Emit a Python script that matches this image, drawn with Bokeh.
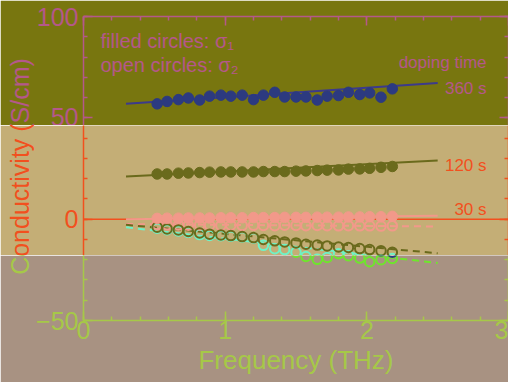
import math
from bokeh.plotting import figure
from bokeh.layouts import column
from bokeh.models import Range1d, LinearAxis, SingleIntervalTicker, Span, Label
from bokeh.embed import file_html
from bokeh.resources import INLINE

# ---------------- data ----------------
freq = [0.52, 0.59, 0.67, 0.74, 0.82, 0.89, 0.97, 1.04, 1.12, 1.20, 1.27, 1.35,
        1.42, 1.50, 1.57, 1.65, 1.72, 1.80, 1.87, 1.95, 2.02, 2.10, 2.18]
sigma1_360 = [56.9, 58.1, 59.0, 59.8, 58.8, 60.7, 61.2, 60.7, 61.2, 59.0, 61.2, 62.6,
              60.3, 60.3, 60.3, 58.8, 60.7, 61.0, 62.6, 61.5, 62.3, 60.2, 64.3]
sigma1_120 = [22.3, 22.3, 22.7, 22.8, 23.0, 23.2, 23.3, 23.3, 23.3, 23.3, 23.5, 23.5,
              23.5, 23.7, 23.8, 24.0, 24.2, 24.3, 24.7, 24.8, 25.1, 25.6, 26.0]
sigma1_30 = [0.4, 0.5, 0.5, 0.6, 0.6, 0.6, 0.7, 0.7, 0.7, 0.8, 0.8, 0.8,
             0.9, 0.9, 0.9, 1.0, 1.0, 1.0, 1.1, 1.1, 1.2, 1.2, 1.4]
sigma2_30 = [-2.6, -2.8, -2.9, -3.0, -2.9, -3.0, -3.1, -3.0, -3.1, -3.0, -3.1, -3.2,
             -3.0, -3.1, -3.2, -3.1, -3.2, -3.3, -3.2, -3.3, -3.3, -3.4, -3.3]
sigma2_120 = [-4.0, -4.8, -5.3, -6.1, -6.8, -7.4, -7.8, -8.1, -8.6, -9.1, -10.0, -10.7,
              -11.2, -11.7, -12.4, -12.8, -13.2, -13.7, -14.0, -14.5, -15.0, -15.6, -16.3]
sigma2_360 = [-4.5, -5.2, -5.8, -6.5, -7.6, -8.0, -8.2, -8.4, -8.8, -9.3, -12.9, -14.6,
              -15.0, -16.3, -18.4, -19.8, -18.9, -17.0, -18.0, -19.2, -21.0, -20.0, -19.4]

fit_x = [0.3, 2.5]
fit1_360 = [56.9, 67.2]
fit1_120 = [21.0, 28.9]
fit1_30 = [0.0, 1.7]
fit2_30 = [-2.4, -3.6]
fit2_120 = [-2.8, -16.8]
fit2_360 = [-4.0, -21.6]

x_ticks_interval = 1
y_ticks_interval = 50

FONT = "Liberation Sans"

# three horizontal bands, each a copy of the chart with its own palette
bands = [
    dict(h=125, bt=16, bb=0, lo=46.22, hi=100.0, bg="#78760f", ax="#b4588a",
         c360="#2c3a80", c120="#2c3a80", c30="#2c3a80", f360="#3c3a8c"),
    dict(h=130, bt=0, bb=0, lo=-17.92, hi=46.22, bg="#c4ae76", ax="#f2501e",
         c360="#6ff2c6", c120="#6a6a1c", c30="#f2998a", f360="#6ff2c6"),
    dict(h=127, bt=0, bb=62, lo=-50.0, hi=-17.92, bg="#a89282", ax="#a6c848",
         c360="#6ee62c", c120="#2c3a80", c30="#f2998a", f360="#6ee62c"),
]

x_range = Range1d(0, 3)


def style_axis(ax, color, labels):
    ax.axis_line_color = color
    ax.axis_line_width = 1.5
    ax.major_tick_line_color = color
    ax.minor_tick_line_color = color
    ax.major_tick_line_width = 1.5
    ax.minor_tick_line_width = 1.5
    ax.major_tick_in = 9
    ax.major_tick_out = 0
    ax.minor_tick_in = 4
    ax.minor_tick_out = 0
    if labels:
        ax.major_label_text_color = color
        ax.major_label_text_font = FONT
        ax.major_label_text_font_size = "25px"
    else:
        ax.major_label_text_font_size = "0px"
        ax.major_label_text_alpha = 0
        ax.major_label_standoff = 0


figs = []
for i, b in enumerate(bands):
    is_top = i == 0
    is_bot = i == len(bands) - 1
    p = figure(width=508, height=b["h"], x_range=x_range,
               y_range=Range1d(b["lo"], b["hi"]),
               output_backend="svg", toolbar_location=None,
               min_border_left=83, min_border_right=0,
               min_border_top=b["bt"], min_border_bottom=b["bb"],
               x_axis_location="below" if is_bot else None,
               background_fill_color=b["bg"], border_fill_color=b["bg"],
               outline_line_color=None)
    p.grid.visible = False

    ya = p.yaxis[0]
    ya.ticker = SingleIntervalTicker(interval=y_ticks_interval, num_minor_ticks=5)
    style_axis(ya, b["ax"], True)
    ya.major_label_standoff = 5

    ra = LinearAxis(ticker=SingleIntervalTicker(interval=y_ticks_interval, num_minor_ticks=5))
    style_axis(ra, b["ax"], False)
    p.add_layout(ra, "right")

    if is_top:
        ta = LinearAxis(ticker=SingleIntervalTicker(interval=x_ticks_interval, num_minor_ticks=5))
        style_axis(ta, b["ax"], False)
        p.add_layout(ta, "above")

    if is_bot:
        xa = p.xaxis[0]
        xa.ticker = SingleIntervalTicker(interval=x_ticks_interval, num_minor_ticks=5)
        style_axis(xa, b["ax"], True)
        xa.major_label_standoff = 0
        xa.axis_label = "Frequency (THz)"
        xa.axis_label_text_font = FONT
        xa.axis_label_text_font_size = "26px"
        xa.axis_label_text_font_style = "normal"
        xa.axis_label_text_color = b["ax"]
        xa.axis_label_standoff = 3

    zero = Span(location=0, dimension="width", line_color=b["ax"], line_width=1.5,
                level="underlay")
    p.add_layout(zero)

    # fit lines
    p.line(fit_x, fit1_30, line_color=b["c30"], line_width=2)
    p.line(fit_x, fit1_120, line_color=b["c120"], line_width=2)
    p.line(fit_x, fit1_360, line_color=b["f360"], line_width=2)
    p.line(fit_x, fit2_30, line_color=b["c30"], line_width=2, line_dash="7 5")
    p.line(fit_x, fit2_360, line_color=b["c360"], line_width=2, line_dash="7 5")
    p.line(fit_x, fit2_120, line_color=b["c120"], line_width=2, line_dash="7 5")

    # open circles: sigma2
    p.scatter(freq, sigma2_360, marker="circle", size=9.5, fill_color=None,
              line_color=b["c360"], line_width=2)
    p.scatter(freq, sigma2_30, marker="circle", size=9.5, fill_color=None,
              line_color=b["c30"], line_width=2)
    p.scatter(freq, sigma2_120, marker="circle", size=9.5, fill_color=None,
              line_color=b["c120"], line_width=2)
    # filled circles: sigma1
    p.scatter(freq, sigma1_30, marker="circle", size=10.5, fill_color=b["c30"],
              line_color=b["c30"])
    p.scatter(freq, sigma1_120, marker="circle", size=10.5, fill_color=b["c120"],
              line_color=b["c120"])
    p.scatter(freq, sigma1_360, marker="circle", size=10.5, fill_color=b["c360"],
              line_color=b["c360"])

    # y-axis title placed in the left panel (not clipped to the frame),
    # positioned through the shared scales so all three copies line up
    p.add_layout(Label(x=-0.45, y=26, x_units="data", y_units="data",
                       text="Conductivity (S/cm)", angle=math.pi / 2,
                       text_align="center", text_baseline="middle",
                       text_color=b["ax"], text_font=FONT, text_font_size="25px"),
                 "left")

    if is_top:
        for tx, ty, t, al, fs in [(0.12, 87.7, "filled circles: \u03c3\u2081", "left", "20px"),
                                  (0.12, 76.3, "open circles: \u03c3\u2082", "left", "20px"),
                                  (2.845, 77.3, "doping time", "right", "17px"),
                                  (2.845, 64.6, "360 s", "right", "17px")]:
            p.add_layout(Label(x=tx, y=ty, text=t, text_align=al, text_baseline="middle",
                               text_color=b["ax"], text_font=FONT, text_font_size=fs))
    if i == 1:
        for tx, ty, t in [(2.845, 26.5, "120 s"), (2.845, 4.8, "30 s")]:
            p.add_layout(Label(x=tx, y=ty, text=t, text_align="right", text_baseline="middle",
                               text_color=b["ax"], text_font=FONT, text_font_size="17px"))
    figs.append(p)

layout = column(*figs, spacing=0)
open("out.html", "w").write(file_html(layout, INLINE))
